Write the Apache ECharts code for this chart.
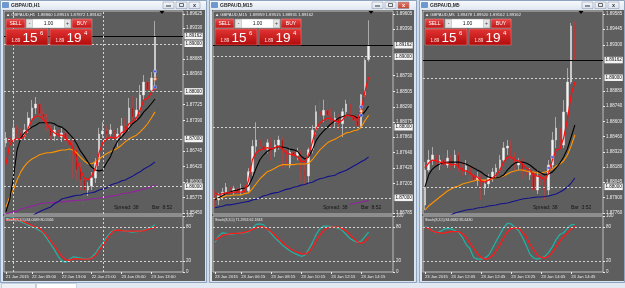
<!DOCTYPE html>
<html>
<head>
<meta charset="utf-8">
<script src="https://cdn.jsdelivr.net/npm/echarts@6.0.0/dist/echarts.min.js"></script>
<style>
  html, body { margin: 0; padding: 0; background: #cfdbe8; }
  #chart { width: 625px; height: 288px; }
</style>
</head>
<body>
<div id="chart"></div>
<script>
// ---- GBPAUD H1 ----
const h1Candles = [
  [1.86916, 1.87021, 1.86832, 1.87147], [1.87021, 1.86937, 1.86853, 1.87084],
  [1.86979, 1.87231, 1.86937, 1.87357], [1.87231, 1.87126, 1.87021, 1.87294],
  [1.87126, 1.87063, 1.86979, 1.87231], [1.87063, 1.87189, 1.87000, 1.87315],
  [1.87189, 1.87441, 1.87126, 1.87567], [1.87441, 1.87651, 1.87378, 1.87819],
  [1.87651, 1.87735, 1.87525, 1.87882], [1.87735, 1.87525, 1.87462, 1.87819],
  [1.87525, 1.87462, 1.87378, 1.87609], [1.87462, 1.87231, 1.87168, 1.87525],
  [1.87231, 1.87063, 1.86979, 1.87315], [1.87063, 1.87189, 1.86958, 1.87273],
  [1.87189, 1.87042, 1.86958, 1.87273], [1.87042, 1.87126, 1.86937, 1.87231],
  [1.87126, 1.86958, 1.86874, 1.87189], [1.86958, 1.86874, 1.86559, 1.87063],
  [1.86874, 1.86769, 1.86181, 1.87021], [1.86769, 1.86349, 1.86139, 1.86832],
  [1.86349, 1.86139, 1.85929, 1.86517], [1.86139, 1.85929, 1.85614, 1.86244],
  [1.85929, 1.86013, 1.85803, 1.86097], [1.86013, 1.86181, 1.85929, 1.86307],
  [1.86181, 1.86517, 1.86076, 1.86601], [1.86517, 1.87105, 1.86433, 1.87231],
  [1.87105, 1.87168, 1.87021, 1.87357], [1.87168, 1.87105, 1.86979, 1.87273],
  [1.87105, 1.87189, 1.87021, 1.87315], [1.87189, 1.87021, 1.86937, 1.87252],
  [1.87021, 1.87105, 1.86832, 1.87231], [1.87105, 1.87273, 1.87021, 1.87441],
  [1.87273, 1.87231, 1.87126, 1.87441], [1.87231, 1.87651, 1.87168, 1.87861],
  [1.87651, 1.87462, 1.87399, 1.87903], [1.87462, 1.87609, 1.87399, 1.87861],
  [1.87609, 1.87924, 1.87525, 1.88134], [1.87924, 1.88197, 1.87819, 1.88344],
  [1.88197, 1.88029, 1.87903, 1.88281], [1.88029, 1.88281, 1.87966, 1.88407],
  [1.88281, 1.89162, 1.88029, 1.89478],
];
const h1Red = [1.8646, 1.8687, 1.8698, 1.8700, 1.8700, 1.8706, 1.8723, 1.8740, 1.8748, 1.8748, 1.8742, 1.8732, 1.8719, 1.8713, 1.8708, 1.8708, 1.8702, 1.8694, 1.8681, 1.8656, 1.8635, 1.8618, 1.8614, 1.8622, 1.8639, 1.8671, 1.8692, 1.8700, 1.8704, 1.8702, 1.8704, 1.8713, 1.8717, 1.8732, 1.8736, 1.8744, 1.8761, 1.8782, 1.8786, 1.8797, 1.8807];
const h1Black = [1.8547, 1.8572, 1.8618, 1.8677, 1.8702, 1.8713, 1.8719, 1.8725, 1.8729, 1.8734, 1.8734, 1.8734, 1.8734, 1.8732, 1.8727, 1.8725, 1.8719, 1.8711, 1.8702, 1.8690, 1.8675, 1.8664, 1.8652, 1.8641, 1.8635, 1.8633, 1.8635, 1.8650, 1.8662, 1.8681, 1.8696, 1.8704, 1.8713, 1.8723, 1.8732, 1.8738, 1.8746, 1.8757, 1.8765, 1.8774, 1.8784];
const h1Orange = [1.8557, 1.8578, 1.8593, 1.8614, 1.8631, 1.8643, 1.8652, 1.8658, 1.8662, 1.8667, 1.8669, 1.8671, 1.8671, 1.8673, 1.8675, 1.8677, 1.8677, 1.8679, 1.8677, 1.8671, 1.8662, 1.8654, 1.8648, 1.8648, 1.8652, 1.8658, 1.8664, 1.8669, 1.8673, 1.8677, 1.8681, 1.8687, 1.8694, 1.8700, 1.8704, 1.8708, 1.8715, 1.8723, 1.8732, 1.8744, 1.8757];
const h1Blue = [1.8513, 1.8517, 1.8522, 1.8526, 1.8528, 1.8532, 1.8534, 1.8538, 1.8543, 1.8547, 1.8551, 1.8554, 1.8557, 1.8564, 1.8568, 1.8574, 1.8576, 1.8578, 1.8580, 1.8582, 1.8582, 1.8585, 1.8586, 1.8587, 1.8589, 1.8593, 1.8595, 1.8597, 1.8603, 1.8606, 1.8608, 1.8612, 1.8614, 1.8618, 1.8622, 1.8627, 1.8631, 1.8637, 1.8641, 1.8646, 1.8652];
const h1Purple = [1.8543, 1.8545, 1.8547, 1.8549, 1.8553, 1.8555, 1.8557, 1.8559, 1.8561, 1.8564, 1.8565, 1.8566, 1.8566, 1.8567, 1.8568, 1.8568, 1.8569, 1.8570, 1.8570, 1.8571, 1.8572, 1.8572, 1.8573, 1.8574, 1.8575, 1.8576, 1.8577, 1.8578, 1.8580, 1.8581, 1.8582, 1.8585, 1.8586, 1.8587, 1.8589, 1.8591, 1.8593, 1.8595, 1.8597, 1.8600, 1.8603];
const h1StochMain = [95, 96, 97, 94, 90, 87, 84, 81, 78, 74, 70, 60, 50, 40, 28, 20, 17, 22, 27, 26, 25, 24, 23, 26, 33, 43, 52, 62, 70, 75, 75, 74, 73, 72, 71, 72, 73, 75, 77, 80, 84.07];
const h1StochSignal = [92, 94, 95, 94, 92, 89, 86, 83, 80, 78, 72, 65, 55, 47, 37, 28, 22, 21, 23, 24, 23, 23, 23, 24, 29, 38, 48, 58, 67, 74, 75, 74, 73, 73, 73, 73, 73, 74, 76, 78, 80.56];
const h1BlueMarks = [[40, 1.8842], [40, 1.8809]];
const h1WhiteMarks = [[40, 1.8826]];
const h1PriceTicks = [1.89625, 1.8933, 1.88685, 1.8836, 1.87725, 1.8739, 1.86745, 1.8642, 1.861, 1.85775, 1.8545];
const h1Levels = [1.89, 1.88, 1.87, 1.86];
const h1Separators = [2, 26];
const h1DateTicks = [0, 7, 15, 23, 31, 39];
const h1DateLabels = ["21 Jan 2015", "22 Jan 05:00", "22 Jan 13:00", "22 Jan 21:00", "23 Jan 05:00", "23 Jan 13:00"];

// ---- GBPAUD M15 ----
const m15Candles = [
  [1.8704, 1.8697, 1.8687, 1.8711], [1.8697, 1.8703, 1.8690, 1.8707],
  [1.8703, 1.8708, 1.8697, 1.8714], [1.8708, 1.8715, 1.8703, 1.8721],
  [1.8715, 1.8710, 1.8706, 1.8720], [1.8710, 1.8713, 1.8704, 1.8717],
  [1.8713, 1.8708, 1.8703, 1.8717], [1.8708, 1.8714, 1.8704, 1.8720],
  [1.8714, 1.8710, 1.8706, 1.8717], [1.8710, 1.8737, 1.8707, 1.8742],
  [1.8737, 1.8773, 1.8731, 1.8782], [1.8773, 1.8782, 1.8763, 1.8807],
  [1.8782, 1.8773, 1.8768, 1.8789], [1.8773, 1.8769, 1.8760, 1.8779],
  [1.8769, 1.8778, 1.8763, 1.8783], [1.8778, 1.8765, 1.8753, 1.8785],
  [1.8765, 1.8775, 1.8758, 1.8782], [1.8775, 1.8782, 1.8768, 1.8788],
  [1.8782, 1.8768, 1.8742, 1.8786], [1.8768, 1.8746, 1.8739, 1.8773],
  [1.8746, 1.8765, 1.8742, 1.8771], [1.8765, 1.8760, 1.8753, 1.8772],
  [1.8760, 1.8765, 1.8753, 1.8771], [1.8765, 1.8739, 1.8722, 1.8768],
  [1.8739, 1.8731, 1.8720, 1.8753], [1.8731, 1.8768, 1.8721, 1.8771],
  [1.8768, 1.8796, 1.8763, 1.8803], [1.8796, 1.8822, 1.8790, 1.8831],
  [1.8822, 1.8817, 1.8810, 1.8839], [1.8817, 1.8824, 1.8807, 1.8839],
  [1.8824, 1.8817, 1.8810, 1.8839], [1.8817, 1.8807, 1.8800, 1.8827],
  [1.8807, 1.8813, 1.8799, 1.8822], [1.8813, 1.8805, 1.8796, 1.8819],
  [1.8805, 1.8822, 1.8786, 1.8827], [1.8822, 1.8833, 1.8816, 1.8839],
  [1.8833, 1.8817, 1.8810, 1.8839], [1.8817, 1.8810, 1.8805, 1.8824],
  [1.8810, 1.8802, 1.8789, 1.8816], [1.8802, 1.8846, 1.8799, 1.8847],
  [1.8846, 1.8895, 1.8843, 1.8898], [1.88959, 1.89162, 1.88931, 1.89515],
];
const m15Red = [1.8707, 1.8704, 1.8706, 1.8707, 1.8707, 1.8708, 1.8708, 1.8708, 1.8710, 1.8725, 1.8754, 1.8764, 1.8768, 1.8769, 1.8771, 1.8769, 1.8771, 1.8773, 1.8769, 1.8764, 1.8762, 1.8761, 1.8758, 1.8752, 1.8751, 1.8761, 1.8779, 1.8798, 1.8806, 1.8810, 1.8813, 1.8812, 1.8809, 1.8807, 1.8810, 1.8817, 1.8816, 1.8815, 1.8810, 1.8824, 1.8850, 1.8871];
const m15Black = [1.8697, 1.8700, 1.8703, 1.8706, 1.8708, 1.8710, 1.8711, 1.8713, 1.8714, 1.8717, 1.8728, 1.8742, 1.8754, 1.8761, 1.8766, 1.8769, 1.8771, 1.8772, 1.8772, 1.8771, 1.8769, 1.8768, 1.8766, 1.8759, 1.8755, 1.8758, 1.8768, 1.8781, 1.8789, 1.8795, 1.8800, 1.8805, 1.8809, 1.8813, 1.8815, 1.8817, 1.8817, 1.8816, 1.8813, 1.8816, 1.8822, 1.8830];
const m15Orange = [1.8697, 1.8700, 1.8701, 1.8703, 1.8703, 1.8704, 1.8704, 1.8704, 1.8706, 1.8707, 1.8713, 1.8720, 1.8727, 1.8732, 1.8737, 1.8739, 1.8742, 1.8745, 1.8747, 1.8747, 1.8747, 1.8747, 1.8748, 1.8748, 1.8748, 1.8749, 1.8754, 1.8761, 1.8768, 1.8773, 1.8778, 1.8781, 1.8783, 1.8786, 1.8789, 1.8792, 1.8793, 1.8795, 1.8796, 1.8800, 1.8809, 1.8817];
const m15Blue = [1.8686, 1.8687, 1.8688, 1.8690, 1.8690, 1.8691, 1.8692, 1.8693, 1.8694, 1.8695, 1.8697, 1.8698, 1.8700, 1.8703, 1.8704, 1.8706, 1.8707, 1.8708, 1.8710, 1.8712, 1.8713, 1.8715, 1.8716, 1.8718, 1.8719, 1.8721, 1.8722, 1.8725, 1.8727, 1.8728, 1.8730, 1.8731, 1.8732, 1.8735, 1.8737, 1.8739, 1.8742, 1.8745, 1.8748, 1.8751, 1.8754, 1.8758];
const m15Purple = [[36, 1.8691], [37, 1.8692], [38, 1.8693], [39, 1.8694], [40, 1.8695], [41, 1.8697]];
const m15StochMain = [53, 64, 70, 69, 67, 68, 69, 70, 70, 72, 78, 85, 86, 84, 76, 69, 61, 55, 48, 43, 38, 34, 31, 28, 30, 40, 52, 67, 77, 82, 82, 81, 80, 78, 74, 67, 60, 56, 53, 55, 63, 71.3];
const m15StochSignal = [56, 61, 65, 67, 68, 69, 69, 70, 71, 73, 76, 79, 81, 80, 77, 72, 66, 59, 53, 47, 42, 38, 35, 33, 32, 35, 44, 56, 66, 74, 79, 80, 80, 80, 77, 73, 67, 60, 54, 51, 54, 62.2];
const m15BlueMarks = [[39, 1.8829], [39, 1.8817]];
const m15WhiteMarks = [[39, 1.8823]];
const m15PriceTicks = [1.89605, 1.8939, 1.8873, 1.88505, 1.8829, 1.88075, 1.8786, 1.8764, 1.8742, 1.87205, 1.86785];
const m15Levels = [1.89, 1.88, 1.87];
const m15DateTicks = [0, 7, 15, 23, 31, 39];
const m15DateLabels = ["23 Jan 2015", "23 Jan 06:15", "23 Jan 08:15", "23 Jan 10:15", "23 Jan 12:15", "23 Jan 14:15"];

// ---- GBPAUD M5 ----
const m5Candles = [
  [1.87833, 1.88154, 1.87787, 1.88227], [1.88154, 1.88246, 1.88136, 1.88337],
  [1.88246, 1.88292, 1.88200, 1.88365], [1.88292, 1.88200, 1.88173, 1.88319],
  [1.88200, 1.88246, 1.88154, 1.88292], [1.88246, 1.88200, 1.88173, 1.88310],
  [1.88200, 1.88264, 1.88173, 1.88337], [1.88264, 1.88200, 1.88154, 1.88292],
  [1.88200, 1.88292, 1.88173, 1.88337], [1.88292, 1.88173, 1.88136, 1.88319],
  [1.88173, 1.88154, 1.88099, 1.88227], [1.88154, 1.88191, 1.88108, 1.88246],
  [1.88191, 1.88108, 1.88062, 1.88218], [1.88108, 1.88062, 1.88026, 1.88154],
  [1.88062, 1.88090, 1.88007, 1.88136], [1.88090, 1.87989, 1.87879, 1.88117],
  [1.87989, 1.88026, 1.87925, 1.88062], [1.88026, 1.88081, 1.87989, 1.88117],
  [1.88081, 1.88136, 1.88044, 1.88173], [1.88136, 1.88173, 1.88081, 1.88209],
  [1.88173, 1.88246, 1.88136, 1.88292], [1.88246, 1.88356, 1.88218, 1.88411],
  [1.88356, 1.88374, 1.88292, 1.88429], [1.88374, 1.88283, 1.88246, 1.88429],
  [1.88283, 1.88200, 1.88154, 1.88319], [1.88200, 1.88227, 1.88154, 1.88264],
  [1.88227, 1.88154, 1.88081, 1.88264], [1.88154, 1.88108, 1.88062, 1.88200],
  [1.88108, 1.88136, 1.88062, 1.88173], [1.88136, 1.87971, 1.87943, 1.88154],
  [1.87971, 1.88099, 1.87934, 1.88154], [1.88099, 1.88062, 1.88017, 1.88136],
  [1.88062, 1.87971, 1.87879, 1.88099], [1.87971, 1.88200, 1.87925, 1.88246],
  [1.88200, 1.88429, 1.88173, 1.88503], [1.88429, 1.88539, 1.88356, 1.88640],
  [1.88539, 1.88383, 1.88337, 1.88567], [1.88383, 1.88686, 1.88356, 1.88796],
  [1.88686, 1.88961, 1.88658, 1.89089], [1.88961, 1.89475, 1.88943, 1.89502],
  [1.89478, 1.89162, 1.89162, 1.89520],
];
const m5Red = [1.88173, 1.88218, 1.88246, 1.88237, 1.88227, 1.88218, 1.88218, 1.88200, 1.88209, 1.88182, 1.88154, 1.88145, 1.88127, 1.88099, 1.88090, 1.88053, 1.88044, 1.88062, 1.88081, 1.88108, 1.88154, 1.88227, 1.88273, 1.88273, 1.88246, 1.88237, 1.88209, 1.88173, 1.88154, 1.88108, 1.88099, 1.88090, 1.88062, 1.88127, 1.88246, 1.88337, 1.88347, 1.88448, 1.88613, 1.88842, 1.88961];
const m5Black = [1.87998, 1.88108, 1.88163, 1.88191, 1.88209, 1.88218, 1.88227, 1.88227, 1.88227, 1.88227, 1.88218, 1.88209, 1.88191, 1.88173, 1.88154, 1.88136, 1.88108, 1.88090, 1.88081, 1.88081, 1.88090, 1.88108, 1.88154, 1.88191, 1.88218, 1.88227, 1.88227, 1.88218, 1.88200, 1.88173, 1.88145, 1.88127, 1.88108, 1.88117, 1.88136, 1.88173, 1.88218, 1.88273, 1.88347, 1.88457, 1.88567];
const m5Orange = [1.87787, 1.87824, 1.87852, 1.87879, 1.87907, 1.87934, 1.87962, 1.87980, 1.87998, 1.88007, 1.88026, 1.88035, 1.88044, 1.88053, 1.88062, 1.88062, 1.88062, 1.88062, 1.88072, 1.88081, 1.88090, 1.88099, 1.88117, 1.88136, 1.88145, 1.88154, 1.88154, 1.88145, 1.88136, 1.88136, 1.88127, 1.88127, 1.88136, 1.88145, 1.88163, 1.88191, 1.88209, 1.88237, 1.88292, 1.88374, 1.88475];
const m5Blue = [1.87650, 1.87668, 1.87687, 1.87696, 1.87714, 1.87723, 1.87732, 1.87741, 1.87760, 1.87769, 1.87778, 1.87787, 1.87792, 1.87797, 1.87806, 1.87810, 1.87815, 1.87824, 1.87829, 1.87833, 1.87842, 1.87847, 1.87852, 1.87861, 1.87870, 1.87879, 1.87888, 1.87893, 1.87897, 1.87902, 1.87907, 1.87907, 1.87911, 1.87916, 1.87925, 1.87934, 1.87952, 1.87971, 1.87998, 1.88035, 1.88081];
const m5StochMain = [82, 78, 74, 70, 72, 76, 78, 77, 74, 71, 62, 49, 42, 26, 23, 23, 25, 30, 42, 55, 67, 79, 87, 86, 80, 74, 62, 48, 32, 25, 23, 25, 28, 35, 45, 58, 67, 70, 78, 84, 84.67];
const m5StochSignal = [80, 78, 73, 71, 70, 69, 71, 72, 72, 72, 68, 62, 52, 42, 33, 26, 23, 24, 29, 38, 48, 61, 72, 78, 79, 78, 71, 63, 50, 40, 30, 26, 25, 28, 35, 45, 55, 63, 70, 77, 82];
const m5BlueMarks = [[34, 1.88273], [33, 1.88173]];
const m5WhiteMarks = [];
const m5PriceTicks = [1.89585, 1.89445, 1.893, 1.8888, 1.8874, 1.886, 1.8846, 1.8832, 1.8818, 1.88045, 1.879, 1.8776];
const m5Levels = [1.89, 1.88];
const m5DateTicks = [0, 7, 15, 23, 31, 39];
const m5DateLabels = ["23 Jan 2015", "23 Jan 12:05", "23 Jan 12:45", "23 Jan 13:25", "23 Jan 14:05", "23 Jan 14:45"];

const categories = Array.from({ length: 48 }, (_, i) => String(i));
const stochTicks = [0, 20, 80, 100];
const bidPrice = 1.89162;

const FONT = "Liberation Sans";
const CHART_BG = "#5e5e5e";
const PLOT_BORDER = "#bdbdbd";
const AXIS_TEXT = "#ececec";
const LEVEL_LINE = "#d4d4d4";
const MA_COLORS = ["#93239f", "#12128a", "#ff9300", "#000000", "#ff1010"];

const panels = [
  {
    title: "GBPAUD,H1", frameLeft: 0, frameWidth: 207, plotLeft: 4, plotWidth: 179,
    priceMin: 1.85425, priceMax: 1.89688,
    candles: h1Candles, lines: [h1Purple, h1Blue, h1Orange, h1Black, h1Red],
    stochMain: h1StochMain, stochSignal: h1StochSignal,
    blueMarks: h1BlueMarks, whiteMarks: h1WhiteMarks,
    priceTicks: h1PriceTicks, levels: h1Levels, separators: h1Separators,
    dateTicks: h1DateTicks, dateLabels: h1DateLabels,
    ohlc: "1.88860 1.89515 1.87872 1.89162", stochText: "Stoch(8,3,5) 84.0689 80.5566",
    barTimer: "8:52", active: false,
  },
  {
    title: "GBPAUD,M15", frameLeft: 209, frameWidth: 208, plotLeft: 213, plotWidth: 180,
    priceMin: 1.86771, priceMax: 1.89647,
    candles: m15Candles, lines: [m15Purple, m15Blue, m15Orange, m15Black, m15Red],
    stochMain: m15StochMain, stochSignal: m15StochSignal,
    blueMarks: m15BlueMarks, whiteMarks: m15WhiteMarks,
    priceTicks: m15PriceTicks, levels: m15Levels, separators: [],
    dateTicks: m15DateTicks, dateLabels: m15DateLabels,
    ohlc: "1.88959 1.89515 1.88931 1.89162", stochText: "Stoch(8,3,5) 71.2953 62.1843",
    barTimer: "8:52", active: true,
  },
  {
    title: "GBPAUD,M5", frameLeft: 419, frameWidth: 206, plotLeft: 423, plotWidth: 180,
    priceMin: 1.87751, priceMax: 1.89612,
    candles: m5Candles, lines: [null, m5Blue, m5Orange, m5Black, m5Red],
    stochMain: m5StochMain, stochSignal: m5StochSignal,
    blueMarks: m5BlueMarks, whiteMarks: m5WhiteMarks,
    priceTicks: m5PriceTicks, levels: m5Levels, separators: [],
    dateTicks: m5DateTicks, dateLabels: m5DateLabels,
    ohlc: "1.89478 1.89520 1.89162 1.89162", stochText: "Stoch(8,3,5) 84.6682 85.6430",
    barTimer: "3:52", active: false,
  },
];

const grids = [];
const xAxes = [];
const yAxes = [];
const series = [];
const graphics = [];

function text(str, x, y, size, color, extra) {
  return {
    type: "text",
    z: 50,
    silent: true,
    style: Object.assign(
      { text: str, x, y, fontSize: size, fontFamily: FONT, fill: color, verticalAlign: "middle" },
      extra || {},
    ),
  };
}

function rect(x, y, width, height, style, z) {
  return { type: "rect", z: z === undefined ? 50 : z, silent: true, shape: { x, y, width, height }, style };
}

function gradient(top, bottom) {
  return {
    type: "linear", x: 0, y: 0, x2: 0, y2: 1,
    colorStops: [{ offset: 0, color: top }, { offset: 1, color: bottom }],
  };
}

function windowFrame(p) {
  const x = p.frameLeft;
  const w = p.frameWidth;
  const items = [
    rect(x + 0.5, 0.5, w - 1, 282, { fill: "#d8e3ef", stroke: "#8fa4be", lineWidth: 1 }, -10),
    rect(x + 1, 1, w - 2, 8.5, { fill: gradient("#f6f8fb", "#e2e9f2") }, -9),
    rect(x + 2.5, 2.5, 6, 5, { fill: "#6b98d2", stroke: "#3f6ea8", lineWidth: 0.5 }, -8),
    text(p.title, x + 11, 5.3, 5, "#2a2a2a", { fontWeight: "bold" }),
    rect(p.plotLeft - 1, 10, 202, 271, { fill: CHART_BG }, -8),
  ];
  [163, 176, 189].forEach((dx, i) => {
    const closeBtn = i === 2 && p.active;
    items.push(rect(x + dx, 2, 11, 6.5, {
      fill: closeBtn ? gradient("#e8806f", "#c4402c") : gradient("#f4f7fb", "#dbe3ee"),
      stroke: "#7e8fa6", lineWidth: 0.5,
    }));
  });
  items.push(rect(x + 166, 5.5, 5, 1, { fill: "#333" }, 51));
  items.push(rect(x + 179.5, 3.5, 4, 3, { fill: "none", stroke: "#333", lineWidth: 0.7 }, 51));
  items.push(text("x", x + 194.5, 5, 5.5, p.active ? "#ffffff" : "#333", { align: "center", fontWeight: "bold" }));
  return items;
}

function priceBox(x, big, sup) {
  return [
    rect(x, 29, 42, 16, { fill: gradient("#e43434", "#b00c0c"), stroke: "#f08080", lineWidth: 0.5 }),
    text("1.89", x + 5.5, 40.5, 4.5, "#ffe6e6"),
    text(big, x + 16.5, 38.5, 13.5, "#ffffff"),
    text(sup, x + 34, 33.5, 6, "#ffffff"),
  ];
}

function tradePanel(p) {
  const l = p.plotLeft;
  return [
    rect(l + 2, 19, 19, 9, { fill: gradient("#e84a4a", "#c01414"), stroke: "#f39a9a", lineWidth: 0.5 }),
    text("SELL", l + 11.5, 23.7, 5, "#ffffff", { align: "center" }),
    rect(l + 22, 19, 45, 9, { fill: "#ffffff", stroke: "#9c9c9c", lineWidth: 0.5 }),
    rect(l + 22.5, 19.5, 6, 8, { fill: "#e3e3e3", stroke: "#a8a8a8", lineWidth: 0.5 }),
    rect(l + 60.5, 19.5, 6, 8, { fill: "#e3e3e3", stroke: "#a8a8a8", lineWidth: 0.5 }),
    text("-", l + 25.5, 23.3, 5, "#333", { align: "center" }),
    text("+", l + 63.5, 23.5, 5, "#333", { align: "center" }),
    text("1.00", l + 44.5, 23.7, 5, "#111", { align: "center" }),
    rect(l + 68, 19, 20, 9, { fill: gradient("#e84a4a", "#c01414"), stroke: "#f39a9a", lineWidth: 0.5 }),
    text("BUY", l + 78, 23.7, 5, "#ffffff", { align: "center" }),
    ...priceBox(l + 2, "15", "6"),
    ...priceBox(l + 46, "19", "4"),
  ];
}

function panelTexts(p) {
  const l = p.plotLeft;
  const shiftX = l + 158;
  return [
    text("\u25B2 " + p.title + "  " + p.ohlc, l + 2, 15, 4.2, "#eeeeee"),
    text("Spread: 38", l + 110, 208, 5, "#151515"),
    text("Bar  " + p.barTimer, l + 148, 208, 5, "#151515"),
    text(p.stochText, l + 2, 219.5, 3.6, "#eeeeee"),
    {
      type: "polygon", z: 50, silent: true,
      shape: { points: [[shiftX - 2.5, 11], [shiftX + 2.5, 11], [shiftX, 14]] },
      style: { fill: "#000000" },
    },
  ];
}

function mainMarkLine(p) {
  const data = p.levels.map((v) => ({
    yAxis: v,
    lineStyle: { color: LEVEL_LINE, type: [2, 2], width: 1 },
  }));
  data.push({ yAxis: bidPrice, lineStyle: { color: "#050505", type: "solid", width: 1 } });
  p.separators.forEach((i) => {
    data.push({ xAxis: i, label: { show: false }, lineStyle: { color: LEVEL_LINE, type: [2, 2], width: 1 } });
  });
  return {
    silent: true,
    symbol: "none",
    animation: false,
    precision: 5,
    label: {
      show: true,
      position: "end",
      distance: 1.5,
      fontSize: 4.5,
      fontFamily: FONT,
      color: "#111111",
      backgroundColor: "#f4f4f4",
      padding: [1, 1, 0.5, 1],
      formatter: (d) => Number(d.value).toFixed(5),
    },
    data,
  };
}

function stochMarkLine(p) {
  const data = [20, 80].map((v) => ({ yAxis: v }));
  p.separators.forEach((i) => data.push({ xAxis: i }));
  return {
    silent: true,
    symbol: "none",
    animation: false,
    label: { show: false },
    lineStyle: { color: LEVEL_LINE, type: [2, 2], width: 1 },
    data,
  };
}

function buildPanel(p, w) {
  const mainIdx = 2 * w;
  const stochIdx = 2 * w + 1;

  grids.push({
    left: p.plotLeft, top: 11, width: p.plotWidth, height: 203,
    show: true, borderColor: PLOT_BORDER, borderWidth: 1, backgroundColor: "transparent",
    outerBoundsMode: "none",
  });
  grids.push({
    left: p.plotLeft, top: 216, width: p.plotWidth, height: 56,
    show: true, borderColor: PLOT_BORDER, borderWidth: 1, backgroundColor: "transparent",
    outerBoundsMode: "none",
  });

  xAxes.push({
    type: "category", gridIndex: mainIdx, data: categories,
    axisLine: { show: false }, axisTick: { show: false }, axisLabel: { show: false }, splitLine: { show: false },
  });
  const showTick = (index) => p.dateTicks.includes(index);
  xAxes.push({
    type: "category", gridIndex: stochIdx, data: categories,
    axisLine: { show: false },
    axisTick: { show: true, interval: showTick, alignWithLabel: true, length: 2, lineStyle: { color: AXIS_TEXT } },
    axisLabel: {
      interval: showTick, align: "left", margin: 3, fontSize: 4.2, fontFamily: FONT, color: AXIS_TEXT,
      formatter: (value, index) => p.dateLabels[p.dateTicks.indexOf(index)] || "",
    },
    splitLine: { show: false },
  });

  yAxes.push({
    type: "value", gridIndex: mainIdx, position: "right", min: p.priceMin, max: p.priceMax,
    axisLine: { show: false }, splitLine: { show: false },
    axisTick: { show: true, length: 2, customValues: p.priceTicks, lineStyle: { color: AXIS_TEXT } },
    axisLabel: {
      customValues: p.priceTicks, margin: 3, fontSize: 4.5, fontFamily: FONT, color: AXIS_TEXT,
      formatter: (v) => Number(v).toFixed(5),
    },
  });
  yAxes.push({
    type: "value", gridIndex: stochIdx, position: "right", min: 0, max: 100,
    axisLine: { show: false }, splitLine: { show: false },
    axisTick: { show: true, length: 2, customValues: stochTicks, lineStyle: { color: AXIS_TEXT } },
    axisLabel: { customValues: stochTicks, margin: 3, fontSize: 4.5, fontFamily: FONT, color: AXIS_TEXT },
  });

  series.push({
    type: "candlestick", xAxisIndex: mainIdx, yAxisIndex: mainIdx,
    barWidth: 2.2, animation: false, silent: true,
    itemStyle: {
      color: "#f4f4f4", color0: "#b01818",
      borderColor: "#dedede", borderColor0: "#c83c3c", borderWidth: 0.6,
    },
    markLine: mainMarkLine(p),
    data: p.candles,
  });

  p.lines.forEach((line, i) => {
    if (!line) return;
    series.push({
      type: "line", xAxisIndex: mainIdx, yAxisIndex: mainIdx,
      showSymbol: false, symbol: "none", animation: false, silent: true, z: 3,
      lineStyle: { color: MA_COLORS[i], width: i === 4 ? 1.3 : 1.1 },
      data: line,
    });
  });

  series.push({
    type: "scatter", xAxisIndex: mainIdx, yAxisIndex: mainIdx, z: 4,
    symbol: "rect", symbolSize: [3, 2.5], animation: false, silent: true,
    itemStyle: { color: "#2b49ff", borderColor: "#ffffff", borderWidth: 0.4 },
    data: p.blueMarks,
  });
  series.push({
    type: "scatter", xAxisIndex: mainIdx, yAxisIndex: mainIdx, z: 4,
    symbol: "circle", symbolSize: 3, animation: false, silent: true,
    itemStyle: { color: "#ffffff", borderColor: "#ff5a1a", borderWidth: 0.8 },
    data: p.whiteMarks,
  });

  series.push({
    type: "line", xAxisIndex: stochIdx, yAxisIndex: stochIdx,
    showSymbol: false, symbol: "none", animation: false, silent: true,
    lineStyle: { color: "#1fb5a6", width: 1.2 },
    markLine: stochMarkLine(p),
    data: p.stochMain,
  });
  series.push({
    type: "line", xAxisIndex: stochIdx, yAxisIndex: stochIdx,
    showSymbol: false, symbol: "none", animation: false, silent: true,
    lineStyle: { color: "#ff1a1a", width: 1.3 },
    data: p.stochSignal,
  });

  graphics.push(...windowFrame(p), ...tradePanel(p), ...panelTexts(p));
}

panels.forEach(buildPanel);

// tab strip along the bottom of the terminal
graphics.push(rect(0, 283, 625, 5, { fill: "#e2e9f2" }, -10));
graphics.push(rect(1.5, 283.5, 34, 5, { fill: "#eef2f7", stroke: "#9fb0c5", lineWidth: 0.5 }, -9));
graphics.push(rect(36.5, 283.5, 40, 5, { fill: "#ffffff", stroke: "#9fb0c5", lineWidth: 0.5 }, -9));

const chart = echarts.init(document.getElementById("chart"));
chart.setOption({
  animation: false,
  backgroundColor: "#cfdbe8",
  textStyle: { fontFamily: FONT },
  grid: grids,
  xAxis: xAxes,
  yAxis: yAxes,
  series,
  graphic: { elements: graphics },
});
</script>
</body>
</html>
